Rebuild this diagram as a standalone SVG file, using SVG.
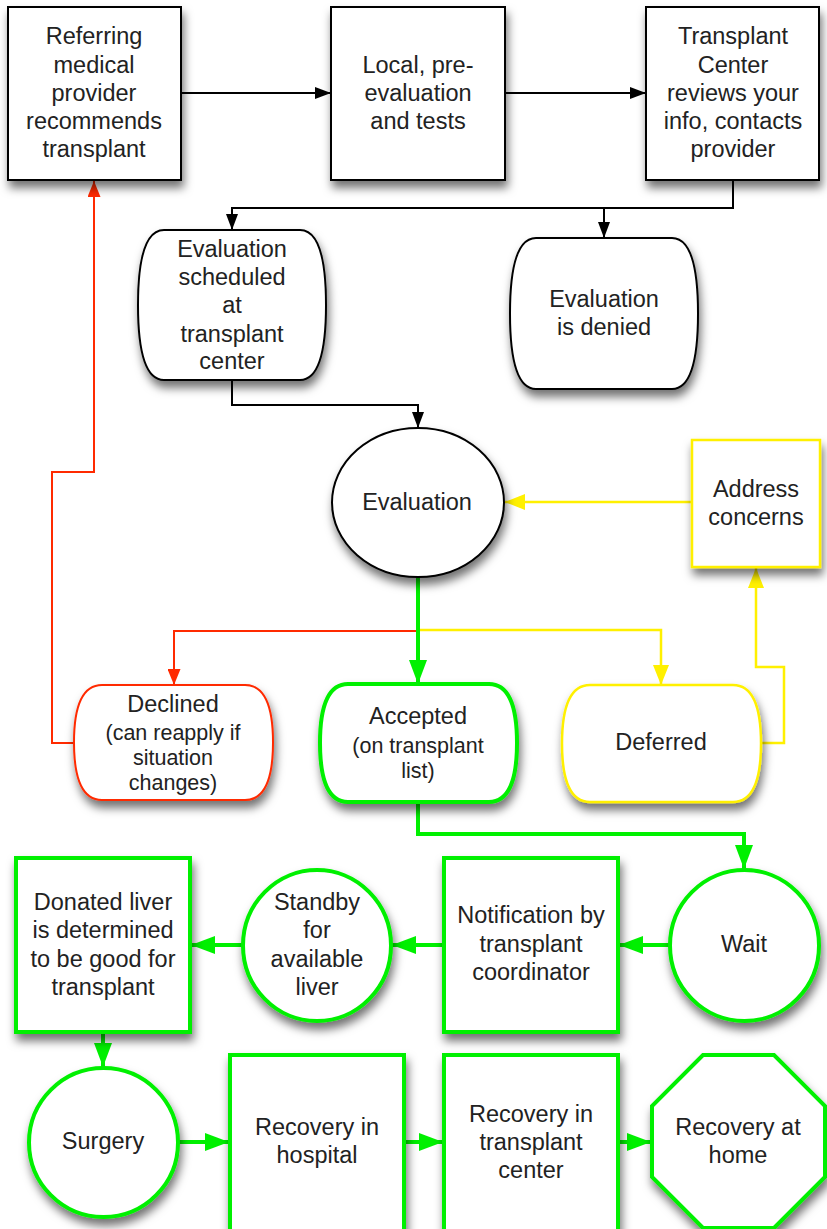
<svg xmlns="http://www.w3.org/2000/svg" width="827" height="1229" viewBox="0 0 827 1229">
<defs>
<filter id="sh" x="-20%" y="-20%" width="150%" height="150%">
<feDropShadow dx="2" dy="7" stdDeviation="5" flood-color="#000" flood-opacity="0.55"/>
</filter>
<marker id="ab" markerUnits="userSpaceOnUse" markerWidth="16" markerHeight="12" refX="16" refY="6" orient="auto"><path d="M0,0 L16,6 L0,12 Z" fill="#000"/></marker>
<marker id="ar" markerUnits="userSpaceOnUse" markerWidth="16" markerHeight="13" refX="16" refY="6.5" orient="auto"><path d="M0,0 L16,6.5 L0,13 Z" fill="#ff2a00"/></marker>
<marker id="ay" markerUnits="userSpaceOnUse" markerWidth="20" markerHeight="16" refX="20" refY="8" orient="auto"><path d="M0,0 L20,8 L0,16 Z" fill="#fff000"/></marker>
<marker id="ag" markerUnits="userSpaceOnUse" markerWidth="24" markerHeight="18" refX="24" refY="9" orient="auto"><path d="M0,0 L24,9 L0,18 Z" fill="#00f000"/></marker>
</defs>
<style>
text{font-family:"Liberation Sans",Arial,sans-serif;font-size:23.5px;fill:#222;text-anchor:middle}
.sm{font-size:21.5px}
.n{fill:#fff;filter:url(#sh)}
.k{stroke:#000;stroke-width:2}
.r{stroke:#ff2a00;stroke-width:2}
.y{stroke:#fff000;stroke-width:2.5}
.g{stroke:#00f000;stroke-width:4}
.c{fill:none}
</style>

<g id="connectors" class="c">
<path class="k" d="M181,93 H331" marker-end="url(#ab)"/>
<path class="k" d="M505,93 H646" marker-end="url(#ab)"/>
<path class="k" d="M733,180 V208 H232 V230" marker-end="url(#ab)"/>
<path class="k" d="M604,208 V238" marker-end="url(#ab)"/>
<path class="k" d="M232,380 V405 H418 V428" marker-end="url(#ab)"/>
<path class="y" d="M692,502 H505" marker-end="url(#ay)"/>
<path class="r" d="M418,631 H174 V685" marker-end="url(#ar)"/>
<path class="y" d="M418,630 H661 V685" marker-end="url(#ay)"/>
<path class="g" d="M418,577 V684" marker-end="url(#ag)"/>
<path class="r" d="M74,743 H52 V472 H94 V181" marker-end="url(#ar)"/>
<path class="y" d="M761,743 H784 V667 H756 V568" marker-end="url(#ay)"/>
<path class="g" d="M418,802 V834 H744 V869" marker-end="url(#ag)"/>
<path class="g" d="M670,945 H619" marker-end="url(#ag)"/>
<path class="g" d="M444,945 H392" marker-end="url(#ag)"/>
<path class="g" d="M243,945 H191" marker-end="url(#ag)"/>
<path class="g" d="M103,1032 V1067" marker-end="url(#ag)"/>
<path class="g" d="M178,1142 H229" marker-end="url(#ag)"/>
<path class="g" d="M404,1142 H443" marker-end="url(#ag)"/>
<path class="g" d="M618,1142 H651" marker-end="url(#ag)"/>
</g>

<g id="referring">
<rect class="n k" x="8" y="7" width="173" height="173"/>
<text x="94" y="44">Referring</text>
<text x="94" y="72.5">medical</text>
<text x="94" y="100.5">provider</text>
<text x="94" y="129">recommends</text>
<text x="94" y="157">transplant</text>
</g>
<g id="local">
<rect class="n k" x="331" y="7" width="174" height="173"/>
<text x="418" y="72.5">Local, pre-</text>
<text x="418" y="100.5">evaluation</text>
<text x="418" y="129">and tests</text>
</g>
<g id="center">
<rect class="n k" x="646" y="7" width="173" height="173"/>
<text x="733" y="44">Transplant</text>
<text x="733" y="72.5">Center</text>
<text x="733" y="100.5">reviews your</text>
<text x="733" y="129">info, contacts</text>
<text x="733" y="157">provider</text>
</g>
<g id="scheduled">
<path class="n k" d="M164,230 H300 C316,230 326,250 326,305 C326,360 316,380 300,380 H164 C148,380 138,360 138,305 C138,250 148,230 164,230 Z"/>
<text x="232" y="257">Evaluation</text>
<text x="232" y="285">scheduled</text>
<text x="232" y="313">at</text>
<text x="232" y="342">transplant</text>
<text x="232" y="369">center</text>
</g>
<g id="denied">
<path class="n k" d="M536,238 H672 C688,238 698,258 698,313.5 C698,369 688,389 672,389 H536 C520,389 510,369 510,313.5 C510,258 520,238 536,238 Z"/>
<text x="604" y="307">Evaluation</text>
<text x="604" y="335">is denied</text>
</g>
<g id="evaluation">
<ellipse class="n k" cx="418" cy="502.5" rx="86" ry="74.5"/>
<text x="417" y="510">Evaluation</text>
</g>
<g id="address">
<rect class="n y" x="692" y="440" width="128" height="127"/>
<text x="756" y="497">Address</text>
<text x="756" y="525">concerns</text>
</g>
<g id="declined">
<path class="n r" d="M102,685 H245 C262,685 273,702 273,742.5 C273,783 262,800 245,800 H102 C85,800 74,783 74,742.5 C74,702 85,685 102,685 Z"/>
<text x="173" y="712">Declined</text>
<text class="sm" x="173" y="740">(can reapply if</text>
<text class="sm" x="173" y="765">situation</text>
<text class="sm" x="173" y="790">changes)</text>
</g>
<g id="accepted">
<path class="n g" d="M348,684 H489 C506,684 517,701 517,743 C517,785 506,802 489,802 H348 C331,802 320,785 320,743 C320,701 331,684 348,684 Z"/>
<text x="418" y="724">Accepted</text>
<text class="sm" x="418" y="753">(on transplant</text>
<text class="sm" x="418" y="778">list)</text>
</g>
<g id="deferred">
<path class="n y" d="M590,685 H733 C750,685 761,702 761,743.5 C761,785 750,802 733,802 H590 C573,802 562,785 562,743.5 C562,702 573,685 590,685 Z"/>
<text x="661" y="750">Deferred</text>
</g>
<g id="wait">
<ellipse class="n g" cx="744.5" cy="945.5" rx="74.5" ry="75.5"/>
<text x="744" y="952">Wait</text>
</g>
<g id="notification">
<rect class="n g" x="444" y="858" width="174" height="174"/>
<text x="531" y="923">Notification by</text>
<text x="531" y="952">transplant</text>
<text x="531" y="980">coordinator</text>
</g>
<g id="standby">
<ellipse class="n g" cx="317" cy="945.5" rx="74" ry="75.5"/>
<text x="317" y="910">Standby</text>
<text x="317" y="938">for</text>
<text x="317" y="967">available</text>
<text x="317" y="995">liver</text>
</g>
<g id="donated">
<rect class="n g" x="16" y="858" width="174" height="174"/>
<text x="103" y="910">Donated liver</text>
<text x="103" y="938">is determined</text>
<text x="103" y="967">to be good for</text>
<text x="103" y="995">transplant</text>
</g>
<g id="surgery">
<ellipse class="n g" cx="103.5" cy="1142.5" rx="74.5" ry="74.5"/>
<text x="103" y="1149">Surgery</text>
</g>
<g id="hospital">
<rect class="n g" x="230" y="1055" width="174" height="180"/>
<text x="317" y="1135">Recovery in</text>
<text x="317" y="1163">hospital</text>
</g>
<g id="recoverycenter">
<rect class="n g" x="444" y="1055" width="174" height="180"/>
<text x="531" y="1122">Recovery in</text>
<text x="531" y="1150">transplant</text>
<text x="531" y="1178">center</text>
</g>
<g id="home">
<polygon class="n g" points="703,1055 774,1055 825,1106 825,1177 774,1228 703,1228 652,1177 652,1106"/>
<text x="738" y="1135">Recovery at</text>
<text x="738" y="1163">home</text>
</g>
</svg>
